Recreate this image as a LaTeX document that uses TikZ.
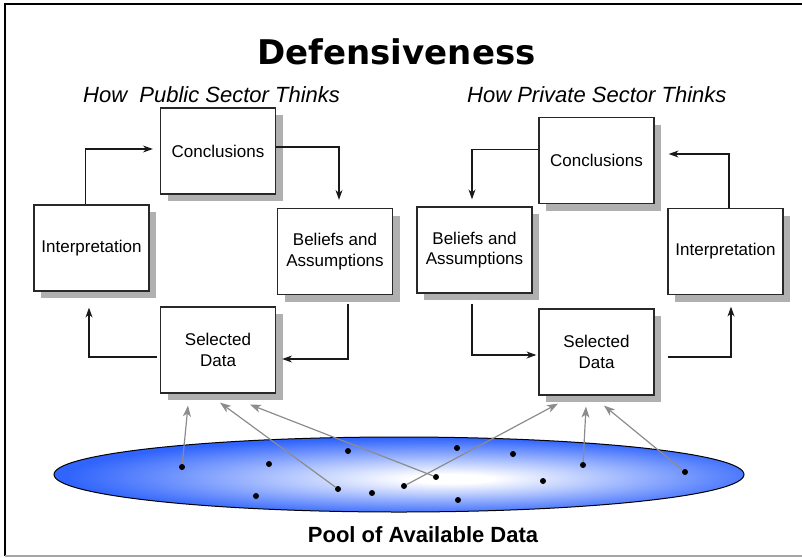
\documentclass[tikz,border=0pt]{standalone}
\usepackage{fontspec}
\setmainfont{Liberation Sans}
\newfontfamily\titlefont{DejaVu Sans}
\usepackage{xcolor}
\usepackage{tikz}
\usetikzlibrary{positioning,shapes.geometric,arrows.meta,shadows}

\definecolor{shadowgray}{RGB}{176,176,176}
\definecolor{poolblue}{RGB}{48,100,252}
\definecolor{feedgray}{RGB}{140,140,140}
\definecolor{boxline}{RGB}{40,40,40}
\pgfdeclareradialshading{poolshade}{\pgfpoint{4bp}{-3bp}}{color(0bp)=(white); color(3bp)=(white); color(26bp)=(poolblue); color(50bp)=(poolblue)}

\begin{document}
\begin{tikzpicture}[x=1pt, y=-1pt, on grid,
    box/.style={draw=boxline, fill=white, line width=1.2pt, minimum width=115pt, minimum height=86pt,
      inner sep=0pt, align=center, font=\fontsize{17}{20.5}\selectfont,
      drop shadow={shadow xshift=7pt, shadow yshift=-7pt, fill=shadowgray, opacity=1}},
    dot/.style={circle, fill=black, minimum size=6pt, inner sep=0pt},
    pool/.style={ellipse, draw=black, line width=1pt, shading=poolshade, minimum width=690pt,
      minimum height=75pt, inner sep=0pt},
    flow/.style={draw=black!90, line width=1.2pt, -{Stealth[length=10pt,width=7pt]}},
    feed/.style={draw=feedgray, line width=1.2pt, -{Stealth[length=11pt,width=8pt,inset=3pt]}}]
    \useasboundingbox (0,0) rectangle (802,557);

    % Frame
    \draw[line width=2pt] (802,4) -- (5,4) -- (5,556);
    \draw[gray!70, line width=1.2pt] (5,556) -- (802,556);

    % Titles
    \node[font=\titlefont\bfseries\fontsize{34}{40}\selectfont, anchor=base, inner sep=0pt] (title) at (396.5,64) {Defensiveness};
    \node[font=\itshape\fontsize{22}{26}\selectfont, anchor=base west, inner sep=0pt] (sub_pub) at (83,102) {How~~Public Sector Thinks};
    \node[font=\itshape\fontsize{22}{26}\selectfont, anchor=base west, inner sep=0pt] (sub_priv) at (467,102) {How Private Sector Thinks};

    % Pool of data
    \node[pool] (pool) at (399,474.5) {};
    \foreach \n/\p in {1/{(182,467)}, 2/{(269,464)}, 3/{(256,496)}, 4/{(348,451)}, 5/{(338,489)},
        6/{(372,493)}, 7/{(404,486)}, 8/{(436,477)}, 9/{(457,448)}, 10/{(458,500)},
        11/{(513,454)}, 12/{(543,481)}, 13/{(583,465)}, 14/{(685,472)}}
      \node[dot] (d\n) at \p {};
    \node[font=\bfseries\fontsize{22}{26}\selectfont, anchor=base, inner sep=0pt] (pool_label) at (423,542) {Pool of Available Data};

    % Public sector boxes
    \node[box] (concl_pub) at (218,151) {Conclusions};
    \node[box] (interp_pub) [below left=97pt and 126.5pt of concl_pub] {Interpretation};
    \node[box] (belief_pub) [below right=100.5pt and 117pt of concl_pub] {Beliefs and\\Assumptions};
    \node[box] (sel_pub) [below=199pt of concl_pub] {Selected\\Data};

    % Private sector boxes
    \node[box] (concl_priv) at (596.5,160.5) {Conclusions};
    \node[box] (belief_priv) [below left=89.5pt and 122pt of concl_priv] {Beliefs and\\Assumptions};
    \node[box] (interp_priv) [below right=91pt and 129pt of concl_priv] {Interpretation};
    \node[box] (sel_priv) [below=191.5pt of concl_priv] {Selected\\Data};

    % Public cycle
    \draw[flow] ([xshift=-6pt]interp_pub.north) |- ([xshift=-7pt,yshift=2pt]concl_pub.west);
    \draw[flow] ([yshift=4pt]concl_pub.east) -| ([xshift=4pt,yshift=8pt]belief_pub.north);
    \draw[flow] ([xshift=13pt,yshift=-9pt]belief_pub.south) |- ([xshift=6pt,yshift=-9pt]sel_pub.east);
    \draw[flow] ([xshift=-3pt,yshift=-7pt]sel_pub.west) -| ([xshift=-2.5pt,yshift=-16pt]interp_pub.south);

    % Private cycle
    \draw[flow] ([yshift=11pt]concl_priv.west) -| ([xshift=-2.5pt,yshift=7pt]belief_priv.north);
    \draw[flow] ([xshift=3.5pt]interp_priv.north) |- ([xshift=14pt,yshift=6.5pt]concl_priv.east);
    \draw[flow] ([xshift=-2.5pt,yshift=-10pt]belief_priv.south) |- ([xshift=-2pt,yshift=-3pt]sel_priv.west);
    \draw[flow] ([xshift=13pt,yshift=-5pt]sel_priv.east) -| ([xshift=5.5pt,yshift=-11.5pt]interp_priv.south);

    % Data feeding the selection
    \draw[feed] (d1) -- ([xshift=-30pt,yshift=-12pt]sel_pub.south);
    \draw[feed] (d5) -- ([xshift=2pt,yshift=-9pt]sel_pub.south);
    \draw[feed] (d8) -- ([xshift=32pt,yshift=-11pt]sel_pub.south);
    \draw[feed] (d7) -- ([xshift=-38.5pt,yshift=-8pt]sel_priv.south);
    \draw[feed] (d13) -- ([xshift=-10.5pt,yshift=-11pt]sel_priv.south);
    \draw[feed] (d14) -- ([xshift=7.5pt,yshift=-10pt]sel_priv.south);
\end{tikzpicture}
\end{document}
